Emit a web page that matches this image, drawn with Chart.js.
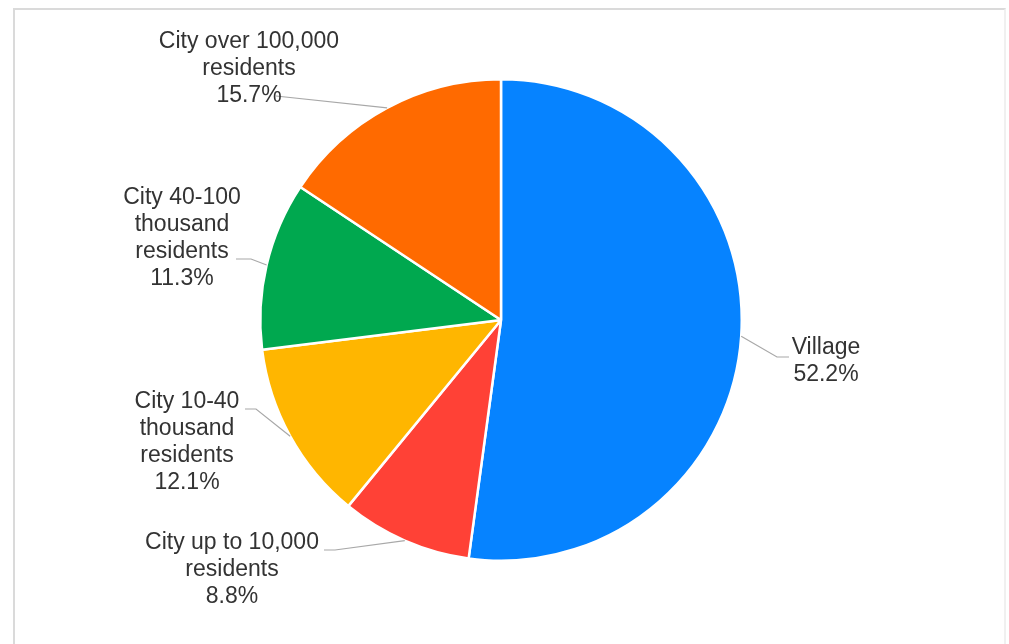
<!DOCTYPE html>
<html>
<head>
<meta charset="utf-8">
<script src="https://cdn.jsdelivr.net/npm/chart.js@4"></script>
<style>
  html, body { margin: 0; padding: 0; background: #ffffff; overflow: hidden; }
  #wrap { position: relative; width: 1009px; height: 644px; }
  #frame { position: absolute; left: 13px; top: 8px; width: 989px; height: 700px;
           border-top: 2px solid #dadada; border-left: 2px solid #dadada; border-right: 2px solid #f0f0f0; }
  canvas { position: absolute; left: 0; top: 0; }
</style>
</head>
<body>
<div id="wrap">
  <div id="frame"></div>
  <canvas id="c" width="1009" height="644"></canvas>
</div>
<script>
// ---- data ----
const categories = ['Village', 'City up to 10,000 residents', 'City 10-40 thousand residents', 'City 40-100 thousand residents', 'City over 100,000 residents'];
const shares = [52.2, 8.8, 12.1, 11.3, 15.7];
const labelText = [
  ['Village'],
  ['City up to 10,000', 'residents'],
  ['City 10-40', 'thousand', 'residents'],
  ['City 40-100', 'thousand', 'residents'],
  ['City over 100,000', 'residents']
];

// ---- styling / layout ----
const colors = ['#0683FF', '#FF4136', '#FFB600', '#00A84F', '#FF6A00'];
// text centre x, first line centre y, line index the leader attaches to, leader end x, elbow x/y
const labelLayout = [
  { cx: 826, y0: 348, attach: 0, endX: 789, elbowX: 777, elbowY: 357 },
  { cx: 232, y0: 543, attach: 0, endX: 324, elbowX: 335, elbowY: 550 },
  { cx: 187, y0: 402, attach: 0, endX: 245, elbowX: 256, elbowY: 409 },
  { cx: 182, y0: 198, attach: 2, endX: 236, elbowX: 251, elbowY: 259 },
  { cx: 249, y0: 42,  attach: 2, endX: 276, elbowX: 276, elbowY: 96 }
];
const lineH = 26.8;
const fontSpec = '23px "Liberation Sans", Arial, sans-serif';

const leaderLabels = {
  id: 'leaderLabels',
  afterDatasetsDraw(chart) {
    const ctx = chart.ctx;
    const meta = chart.getDatasetMeta(0);
    ctx.save();
    meta.data.forEach((arc, i) => {
      const p = arc.getProps(['x', 'y', 'startAngle', 'endAngle', 'outerRadius'], true);
      const mid = (p.startAngle + p.endAngle) / 2;
      const ax = p.x + Math.cos(mid) * p.outerRadius;
      const ay = p.y + Math.sin(mid) * p.outerRadius;
      const L = labelLayout[i];
      ctx.strokeStyle = '#a8a8a8';
      ctx.lineWidth = 1.2;
      ctx.beginPath();
      ctx.moveTo(ax, ay);
      ctx.lineTo(L.elbowX, L.elbowY);
      ctx.lineTo(L.endX, L.elbowY);
      ctx.stroke();
    });
    meta.data.forEach((arc, i) => {
      const L = labelLayout[i];
      const lines = labelText[i].concat([shares[i].toFixed(1) + '%']);
      ctx.font = fontSpec;
      ctx.fillStyle = '#333333';
      ctx.textAlign = 'center';
      ctx.textBaseline = 'middle';
      lines.forEach((t, k) => ctx.fillText(t, L.cx, L.y0 + k * lineH));
    });
    ctx.restore();
  }
};

new Chart(document.getElementById('c'), {
  type: 'pie',
  data: {
    labels: categories,
    datasets: [{
      data: shares,
      backgroundColor: colors,
      borderColor: '#ffffff',
      borderWidth: 2.5
    }]
  },
  options: {
    responsive: false,
    devicePixelRatio: 1,
    animation: false,
    layout: { padding: { top: 78, bottom: 82, left: 200, right: 207 } },
    plugins: {
      legend: { display: false },
      tooltip: { enabled: false }
    }
  },
  plugins: [leaderLabels]
});
</script>
</body>
</html>
